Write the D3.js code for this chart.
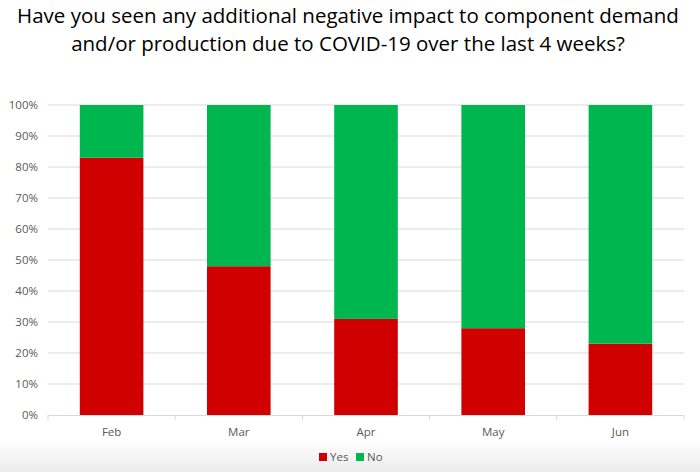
<!DOCTYPE html>
<html>
<head>
<meta charset="utf-8">
<script src="https://cdn.jsdelivr.net/npm/d3@7"></script>
<style>
  body { margin: 0; background: #fff; }
  svg text { font-family: "Open Sans", "Liberation Sans", sans-serif; }
</style>
</head>
<body>
<div id="chart"></div>
<script>
const months = ["Feb", "Mar", "Apr", "May", "Jun"];
const yesValues = [83, 48, 31, 28, 23];
const noValues = [17, 52, 69, 72, 77];
const yTicks = [0, 10, 20, 30, 40, 50, 60, 70, 80, 90, 100];
const seriesNames = ["Yes", "No"];
const seriesColors = ["#d00000", "#00b74f"];

const width = 700, height = 472;
const margin = {top: 105, right: 16, bottom: 57, left: 48};

const svg = d3.select("#chart").append("svg")
    .attr("width", width).attr("height", height);

// leve sombra cinza no rodapé
const grad = svg.append("defs").append("linearGradient")
    .attr("id", "footer").attr("x1", 0).attr("x2", 0).attr("y1", 0).attr("y2", 1);
grad.append("stop").attr("offset", "0%").attr("stop-color", "#ffffff");
grad.append("stop").attr("offset", "100%").attr("stop-color", "#ebebeb");
svg.append("rect").attr("x", 0).attr("y", 440).attr("width", width).attr("height", 32)
    .attr("fill", "url(#footer)");

// titulo em duas linhas
const title = svg.append("text")
    .attr("x", width / 2).attr("text-anchor", "middle")
    .attr("font-size", 20.5).attr("fill", "#000");
title.append("tspan").attr("x", 348).attr("y", 23)
    .text("Have you seen any additional negative impact to component demand");
title.append("tspan").attr("x", 348).attr("y", 51)
    .text("and/or production due to COVID-19 over the last 4 weeks?");

const x = d3.scaleBand().domain(months)
    .range([margin.left, width - margin.right]).paddingInner(0.5).paddingOuter(0.25);
const y = d3.scaleLinear().domain([0, 100]).range([height - margin.bottom, margin.top]);

// linhas de grade
svg.append("g").selectAll("line").data(yTicks.filter(d => d > 0)).join("line")
    .attr("x1", margin.left).attr("x2", width - margin.right)
    .attr("y1", d => y(d)).attr("y2", d => y(d))
    .attr("stroke", "#d9d9d9").attr("stroke-width", 1);

const rows = months.map((m, i) => ({month: m, Yes: yesValues[i], No: noValues[i]}));
const stacked = d3.stack().keys(seriesNames)(rows);

svg.append("g").selectAll("g").data(stacked).join("g")
    .attr("fill", (d, i) => seriesColors[i])
    .selectAll("rect").data(d => d).join("rect")
    .attr("x", d => x(d.data.month))
    .attr("width", x.bandwidth())
    .attr("y", d => y(d[1]))
    .attr("height", d => y(d[0]) - y(d[1]));

// eixo Y
const yAxis = svg.append("g").attr("transform", `translate(${margin.left},0)`)
    .call(d3.axisLeft(y).tickValues(yTicks).tickFormat(d => d + "%").tickSize(0).tickPadding(10));
yAxis.select(".domain").remove();
yAxis.selectAll("text").attr("font-size", 11.5).attr("fill", "#595959");

// eixo X
const xStep = x.step();
const xAxis = svg.append("g").attr("transform", `translate(0,${y(0)})`)
    .call(d3.axisBottom(x).tickSize(0).tickPadding(13));
xAxis.select(".domain").attr("stroke", "#d9d9d9");
xAxis.selectAll("text").attr("font-size", 11.5).attr("fill", "#595959");
const bounds = [margin.left].concat(months.map(m => x(m) + x.bandwidth() / 2 + xStep / 2));
xAxis.selectAll("line.sep").data(bounds).join("line").attr("class", "sep")
    .attr("x1", d => d).attr("x2", d => d).attr("y1", 0).attr("y2", 5)
    .attr("stroke", "#d9d9d9");

// legenda
const legend = svg.append("g").attr("transform", `translate(319,457)`);
const li = legend.selectAll("g").data(seriesNames).join("g")
    .attr("transform", (d, i) => `translate(${i * 37},0)`);
li.append("rect").attr("x", 0).attr("y", -4).attr("width", 8).attr("height", 8)
    .attr("fill", (d, i) => seriesColors[i]);
li.append("text").attr("x", 11).attr("y", 0).attr("dy", "0.35em")
    .attr("font-size", 11.5).attr("fill", "#595959").text(d => d);
</script>
</body>
</html>
